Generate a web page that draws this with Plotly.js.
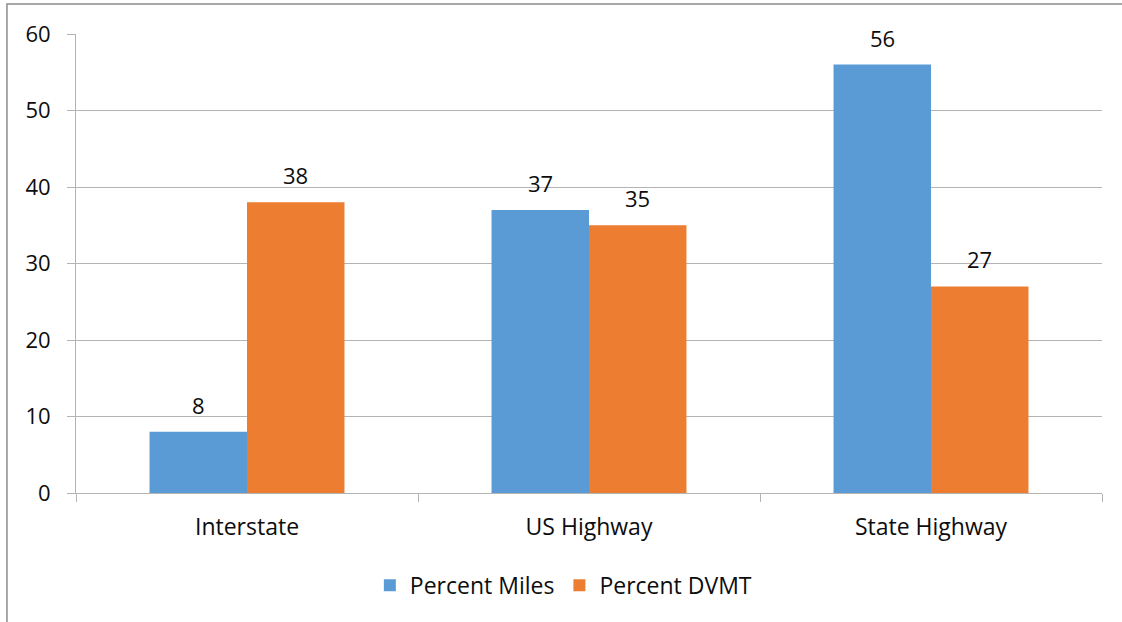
<!DOCTYPE html>
<html>
<head>
<meta charset="utf-8">
<script src="https://cdn.plot.ly/plotly-3.0.1.min.js"></script>
<style>
  html, body { margin: 0; padding: 0; background: #fff; }
  #chart { width: 1122px; height: 622px; }
</style>
</head>
<body>
<div id="chart"></div>
<script>
// Share of highway miles vs. daily vehicle miles traveled by road class
const categories = ["Interstate", "US Highway", "State Highway"];
const percentMiles = [8, 37, 56];
const percentDVMT = [38, 35, 27];
const yTicks = [0, 10, 20, 30, 40, 50, 60];

const fontFamily = "'Open Sans', 'Liberation Sans', sans-serif";
const textColor = "#0d0d0d";
const gridColor = "#b4b4b4";
const barHalf = 48.75; // half of one bar's drawn width, in px

const series = [
  { name: "Percent Miles", values: percentMiles, color: "#5b9bd5", side: -1 },
  { name: "Percent DVMT", values: percentDVMT, color: "#ed7d31", side: 1 }
];

const traces = series.map(s => ({
  type: "bar",
  name: s.name,
  x: categories,
  y: s.values,
  marker: { color: s.color }
}));

// value labels sitting above each bar
const annotations = [];
series.forEach(s => {
  s.values.forEach((v, i) => {
    annotations.push({
      x: categories[i],
      y: v,
      xref: "x",
      yref: "y",
      text: String(v),
      showarrow: false,
      xanchor: "center",
      yanchor: "bottom",
      xshift: s.side * barHalf,
      yshift: 10,
      font: { family: fontFamily, size: 22, color: textColor }
    });
  });
});

const layout = {
  width: 1122,
  height: 622,
  margin: { l: 76, r: 20, t: 34, b: 129 },
  paper_bgcolor: "#ffffff",
  plot_bgcolor: "#ffffff",
  font: { family: fontFamily, size: 22, color: textColor },
  barmode: "group",
  bargap: 0.43,
  bargroupgap: 0,
  showlegend: true,
  legend: {
    orientation: "h",
    x: 0.475,
    xanchor: "center",
    y: -0.154,
    yanchor: "top",
    font: { family: fontFamily, size: 23, color: textColor },
    itemwidth: 30
  },
  xaxis: {
    type: "category",
    tickson: "boundaries",
    ticks: "outside",
    ticklen: 8,
    tickcolor: gridColor,
    showline: true,
    linecolor: gridColor,
    linewidth: 1,
    showgrid: false,
    ticklabelstandoff: 13,
    tickfont: { family: fontFamily, size: 23, color: textColor }
  },
  yaxis: {
    range: [0, 60],
    tickvals: yTicks,
    ticktext: yTicks.map(String),
    ticks: "outside",
    ticklen: 8,
    tickcolor: gridColor,
    showline: true,
    linecolor: gridColor,
    linewidth: 1,
    showgrid: true,
    gridcolor: gridColor,
    gridwidth: 1,
    zeroline: false,
    ticklabelstandoff: 12,
    tickfont: { family: fontFamily, size: 22, color: textColor }
  },
  annotations: annotations,
  shapes: [
    {
      type: "rect",
      xref: "paper",
      yref: "paper",
      x0: -0.0673,
      x1: 1.1,
      y0: -0.4,
      y1: 1.0654,
      line: { color: "#8c8c8c", width: 1.5 },
      fillcolor: "rgba(0,0,0,0)",
      layer: "below"
    }
  ]
};

Plotly.newPlot("chart", traces, layout, { displayModeBar: false, staticPlot: true });
</script>
</body>
</html>
